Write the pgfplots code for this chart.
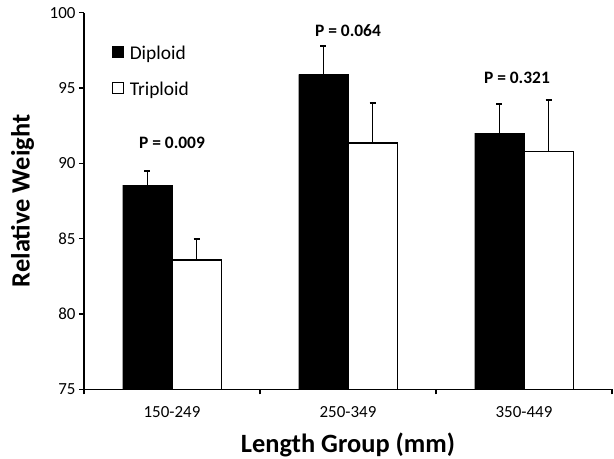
\documentclass[border=0pt]{standalone}
\usepackage{fontspec}
\setmainfont{Carlito}
\usepackage{pgfplots}
\pgfplotsset{compat=1.18}

% Relative weight by length group: mean and upper error
\pgfplotstableread{
x  y      err
0  88.55  0.93
1  95.90  1.88
2  92.00  1.92
}\diploid
\pgfplotstableread{
x  y      err
0  83.58  1.42
1  91.35  2.63
2  90.78  3.42
}\triploid

\begin{document}
\begin{tikzpicture}
\path[use as bounding box] (-84bp,-69.7bp) rectangle (530bp,389.3bp);
\begin{axis}[
  at={(0,0)}, anchor=south west,
  scale only axis,
  width=528bp, height=376.6bp,
  xmin=-0.5, xmax=2.5,
  ymin=75, ymax=100,
  axis lines*=left,
  axis line style={line width=1.4bp, black},
  xtick={0,1,2},
  xticklabels={150-249,250-349,350-449},
  minor xtick={-0.5,0.5,1.5,2.5},
  major x tick style={draw=none},
  minor x tick style={line width=1.3bp, black},
  ytick={75,80,...,100},
  major y tick style={line width=1.3bp, black},
  tick align=outside,
  major tick length=5bp,
  minor tick length=5bp,
  /pgf/number format/assume math mode=true,
  tick label style={font=\fontsize{17}{20}\selectfont},
  xticklabel style={yshift=-9bp},
  ylabel={Relative Weight},
  xlabel={Length Group (mm)},
  ylabel style={at={(axis description cs:-0.103,0.5)}, anchor=base, rotate=0,
    inner sep=0pt, font=\bfseries\fontsize{26.5}{30}\selectfont},
  xlabel style={at={(axis description cs:0.5,-0.1665)}, anchor=base,
    inner sep=0pt, font=\bfseries\fontsize{26.5}{30}\selectfont},
  ybar, bar width=0.28,
  legend style={at={(axis description cs:0.053,0.918)}, anchor=north west,
    draw=none, fill=none, inner sep=0pt,
    font=\fontsize{19.5}{23}\selectfont,
    row sep=17bp, cells={anchor=west}},
  legend image code/.code={%
    \draw[#1, line width=1.2bp] (0bp,-4bp) rectangle (11bp,7bp);
    \path[draw=none, fill=none] (0bp,0bp) -- (15bp,0bp);},
  error bars/error bar style={line width=1.6bp, black},
  error bars/error mark options={black, mark size=3bp, line width=1.8bp, rotate=90},
]
\addplot[fill=black, draw=black, bar shift=-0.14,
  error bars/.cd, y dir=plus, y explicit]
  table[x=x, y=y, y error=err] {\diploid};
\addlegendentry{Diploid}
\addplot[fill=white, draw=black, line width=1.5bp, bar shift=0.14,
  error bars/.cd, y dir=plus, y explicit]
  table[x=x, y=y, y error=err] {\triploid};
\addlegendentry{Triploid}

\node[font=\bfseries\fontsize{17.5}{20}\selectfont] at (axis cs:0,91.36) {P = 0.009};
\node[font=\bfseries\fontsize{17.5}{20}\selectfont] at (axis cs:1,98.84) {P = 0.064};
\node[font=\bfseries\fontsize{17.5}{20}\selectfont] at (axis cs:1.96,95.68) {P = 0.321};
\end{axis}
\end{tikzpicture}
\end{document}
